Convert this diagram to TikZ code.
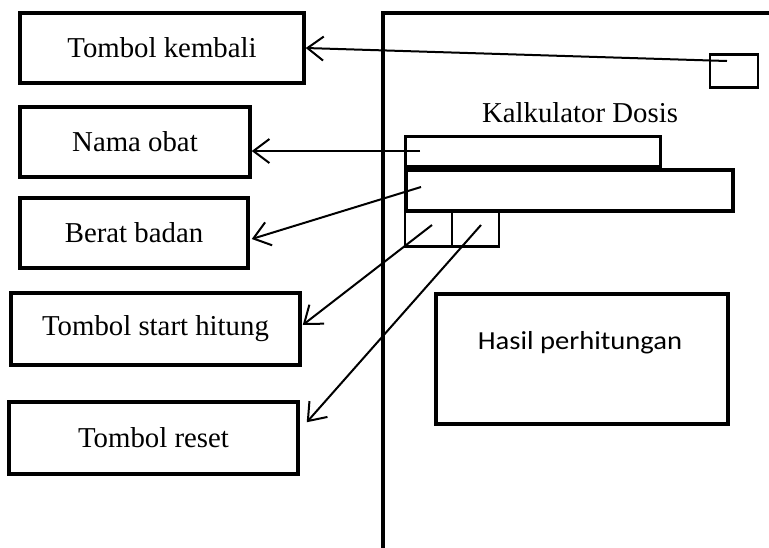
\documentclass[tikz,border=0pt]{standalone}
\usepackage{fontspec}
\usepackage{graphicx}
\setmainfont{Liberation Serif}
\newfontfamily\uisans{Carlito}
\usetikzlibrary{arrows.meta,calc}
\tikzset{
  label box/.style={draw, line width=3.5pt, inner sep=0pt, font=\fontsize{28.8}{34}\selectfont},
  field/.style={draw, line width=3pt, inner sep=0pt},
  thin btn/.style={draw, line width=1.2pt, inner sep=0pt},
  pointer/.style={line width=2pt, -{Straight Barb[length=16pt,width=24pt,line width=2pt]}},
  frame/.style={line width=4pt},
}
\begin{document}
\begin{tikzpicture}[x=1pt,y=-1pt]
\useasboundingbox (0,0) rectangle (769,547);

% phone outline (left and top edge)
\draw[frame] (383,549) -- (383,13) -- (771,13);

% description boxes
\node[label box, minimum width=284, minimum height=70] (kembali) at (162,48) {Tombol kembali};
\node[label box, minimum width=230, minimum height=70] (nama) at (135,142) {Nama obat};
\node[label box, minimum width=228, minimum height=70] (berat) at (134,233) {Berat badan};
\node[label box, minimum width=289, minimum height=72] (start) at (155.5,329) {Tombol start hitung};
\node[label box, minimum width=289, minimum height=72] (reset) at (153.5,438) {Tombol reset};

% screen contents
\node[thin btn, minimum width=48, minimum height=32] (btnBack) at (734,71) {};
\draw[line width=3pt] (btnBack.north west) -- (btnBack.north east);
\draw[line width=3pt] (btnBack.south west) -- (btnBack.south east);
\node[font=\fontsize{28.8}{34}\selectfont] (title) at (580,113) {Kalkulator Dosis};
\node[field, minimum width=255, minimum height=30] (fNama) at (532.5,151) {};
\node[field, line width=4pt, minimum width=327, minimum height=41] (fBerat) at (569.5,190.5) {};
\node[thin btn, minimum width=47, minimum height=35] (btnStart) at (428.5,228.5) {};
\node[thin btn, minimum width=47, minimum height=35] (btnReset) at (475.5,228.5) {};
\draw[line width=3pt] (btnStart.south west) -- (btnReset.south east);
\node[field, line width=3.5pt, minimum width=292, minimum height=130] (hasil) at (582,359) {};
\node[font=\uisans\fontsize{26}{32}\selectfont] (hasilText) at (580,343) {\scalebox{1.1}[1]{Hasil perhitungan}};

% pointers from screen elements to their descriptions
\coordinate (sBack) at (727,61);
\coordinate (sNama) at (420,151);
\coordinate (sBerat) at (421,187);
\coordinate (sStart) at (432,225);
\coordinate (sReset) at (481,225);

\draw[pointer] (sBack) -- (kembali.east);
\draw[pointer] (sNama) -- (sNama -| nama.east);
\draw[pointer] (sBerat) -- ($(berat.east)+(2,6)$);
\draw[pointer] (sStart) -- ($(start.east)+(1,-4)$);
\draw[pointer] (sReset) -- ($(reset.north east)+(7,22)$);
\end{tikzpicture}
\end{document}
